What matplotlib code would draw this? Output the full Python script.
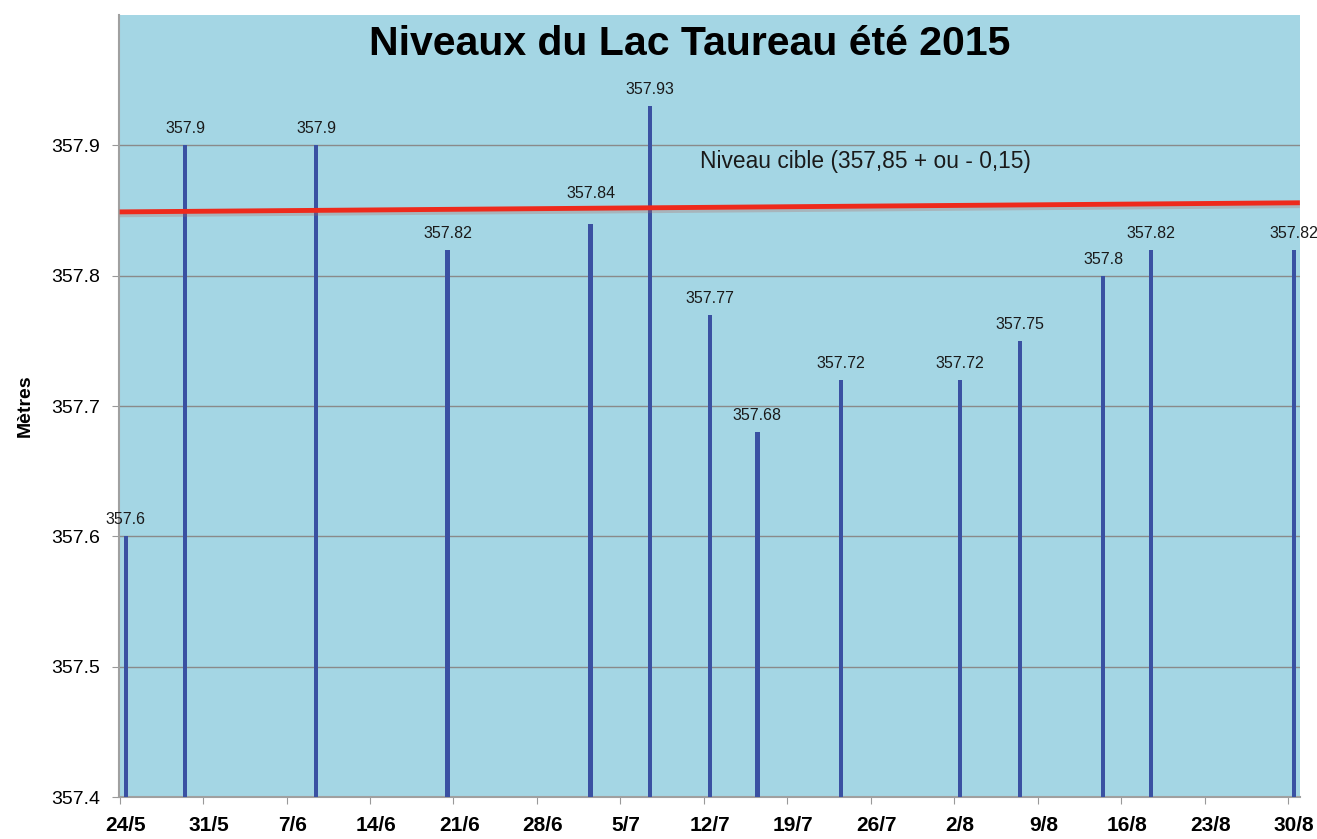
import datetime as dt
import numpy as np
import matplotlib
matplotlib.use('Agg')
import matplotlib.pyplot as plt
import matplotlib.dates as mdates

plt.rcParams['font.family'] = ['Liberation Sans', 'DejaVu Sans']

# Lake level readings, summer 2015
dates = ['2015-05-24', '2015-05-29', '2015-06-09', '2015-06-20', '2015-07-02',
         '2015-07-07', '2015-07-12', '2015-07-16', '2015-07-23', '2015-08-02',
         '2015-08-07', '2015-08-14', '2015-08-18', '2015-08-30']
levels = [357.6, 357.9, 357.9, 357.82, 357.84, 357.93, 357.77, 357.68,
          357.72, 357.72, 357.75, 357.8, 357.82, 357.82]
labels = ['357.6', '357.9', '357.9', '357.82', '357.84', '357.93', '357.77',
          '357.68', '357.72', '357.72', '357.75', '357.8', '357.82', '357.82']

# target level line (drawn slightly sloped in the original)
target_start = 357.849
target_end = 357.856
target_text = 'Niveau cible (357,85 + ou - 0,15)'

base = 357.4
x = mdates.date2num([dt.datetime.strptime(d, '%Y-%m-%d') for d in dates]) + 0.5

fig = plt.figure(figsize=(13.17, 8.39), dpi=100)
ax = fig.add_axes([0.0904, 0.05, 0.8966, 0.932])
ax.set_facecolor('#a4d6e4')

ax.bar(x, np.array(levels) - base, bottom=base, width=0.35,
       color='#3a51a2', zorder=3)
for xi, v, lab in zip(x, levels, labels):
    # the 357.84 label sits above the target line in the original
    lift = 0.01 if lab == '357.84' else 0.0
    ax.text(xi, v + 0.007 + lift, lab, ha='center', va='bottom', fontsize=11.5,
            color='#1a1a1a', zorder=5, clip_on=False)

x0 = mdates.date2num(dt.datetime(2015, 5, 24))
x1 = mdates.date2num(dt.datetime(2015, 8, 31))
# soft shadow then red target line
ax.plot([x0, x1], [target_start - 0.0025, target_end - 0.0025], color='#b06a60',
        lw=3, alpha=0.3, zorder=3.5, solid_capstyle='butt')
ax.plot([x0, x1], [target_start, target_end], color='#ee2a1c', lw=3.5,
        zorder=4, solid_capstyle='butt')
ax.text(x0 + 48.7, 357.888, target_text,
        fontsize=16.4, color='#1a1a1a', va='center', ha='left', zorder=5)

ax.set_xlim(x0 - 0.05, x1)
ax.set_ylim(357.4, 358.0)
ax.set_yticks([357.4, 357.5, 357.6, 357.7, 357.8, 357.9])
ax.set_yticklabels(['357.4', '357.5', '357.6', '357.7', '357.8', '357.9'],
                   fontsize=14)
ax.grid(axis='y', color='#8a8a8a', lw=1, zorder=1)

# weekly tick marks; labels sit half a day to the right (minor ticks)
ticks = [x0 + 7 * i for i in range(15)]
ax.set_xticks(ticks)
ax.set_xticklabels([])
ax.set_xticks([t + 0.5 for t in ticks], minor=True)
ax.set_xticklabels([mdates.num2date(t).strftime('%-d/%-m') for t in ticks],
                   minor=True, fontsize=15, fontweight='bold')

ax.tick_params(axis='x', which='major', direction='out', length=5,
               color='#999999')
ax.tick_params(axis='x', which='minor', length=0, pad=13.6)
ax.tick_params(axis='y', direction='out', length=5, color='#999999', pad=8.5)

for side in ['top', 'right']:
    ax.spines[side].set_visible(False)
ax.spines['left'].set_color('#a0a0a0')
ax.spines['bottom'].set_color('#a0a0a0')
ax.spines['left'].set_linewidth(1.5)
ax.spines['bottom'].set_linewidth(1.5)

ax.set_ylabel('Mètres', fontsize=14, fontweight='bold')
ax.yaxis.set_label_coords(-0.072, 0.5)

ax.text(0.4835, 0.9488, 'Niveaux du Lac Taureau été 2015', transform=ax.transAxes,
        ha='center', va='baseline', fontsize=29.5, fontweight='bold', zorder=6)

fig.savefig('out.png', dpi=100)
